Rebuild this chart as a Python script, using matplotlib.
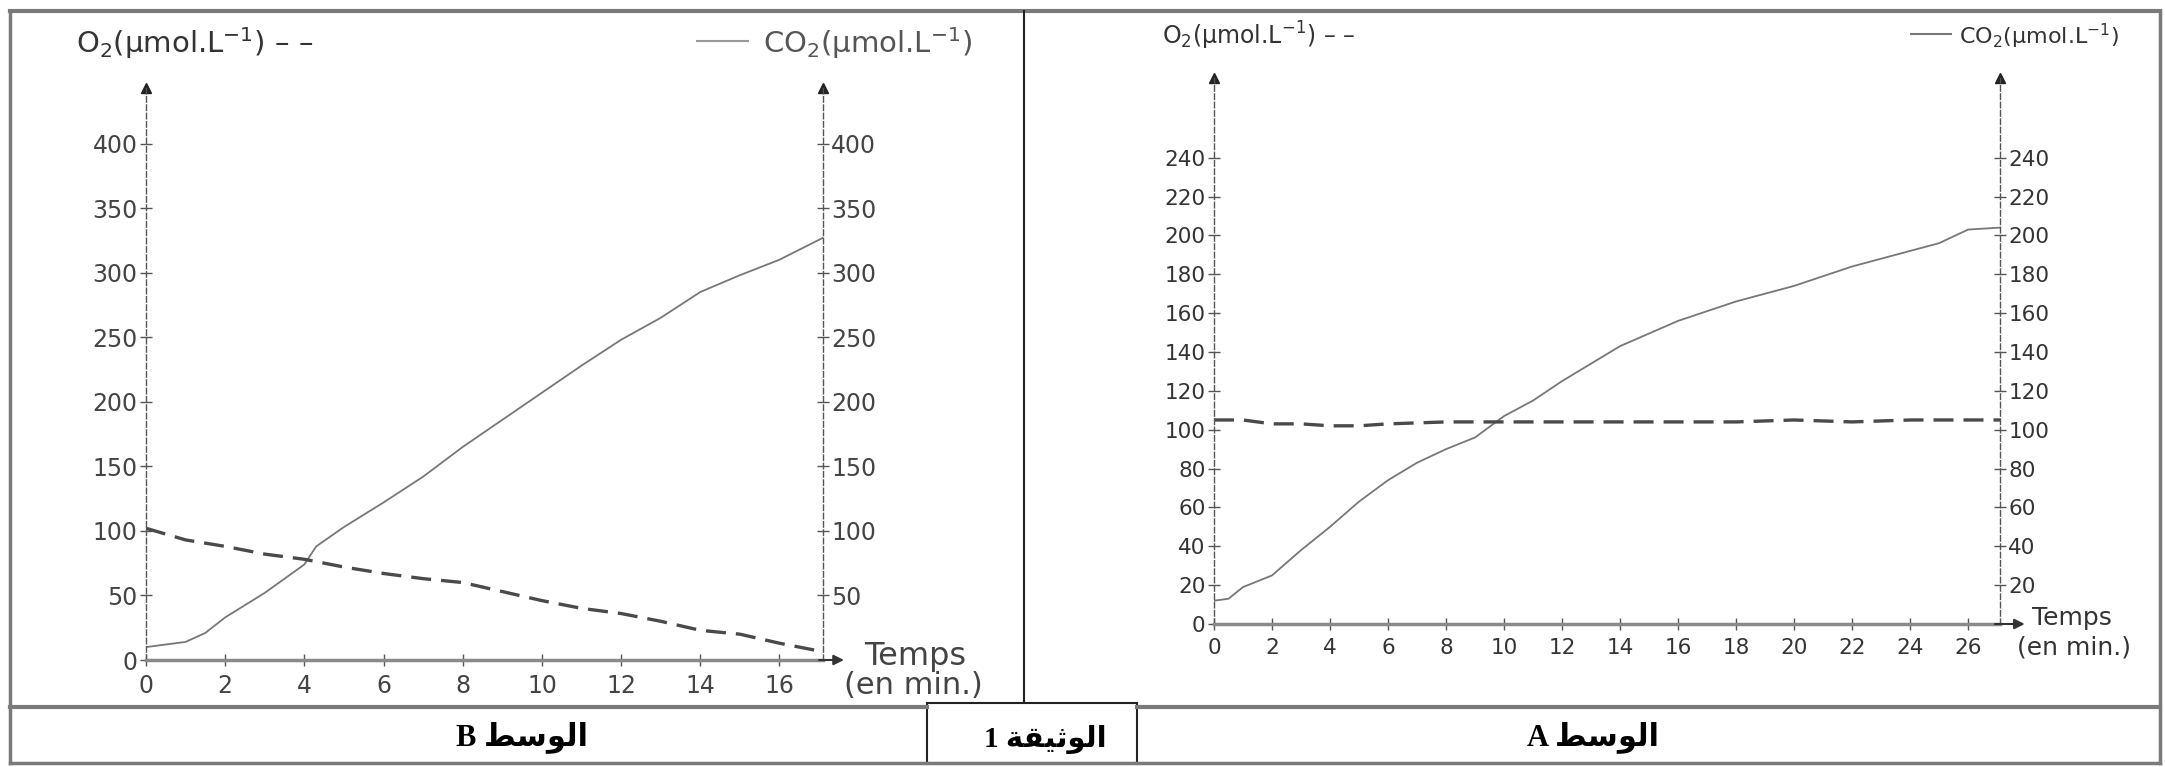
import matplotlib
matplotlib.use('Agg')
import matplotlib.pyplot as plt
from matplotlib.lines import Line2D
from matplotlib.patches import Rectangle

W, H = 2165, 767

# Milieu B (O2 en baisse, CO2 en hausse)
t_co2_b = [0, 1, 1.5, 2, 3, 4, 4.3, 5, 6, 7, 8, 9, 10, 11, 12, 13, 14, 15, 16, 17.1]
co2_b = [10, 14, 21, 33, 52, 74, 88, 103, 122, 142, 165, 186, 207, 228, 248, 265, 285, 298, 310, 327]
t_o2_b = [0, 1, 2, 3, 4, 5, 6, 7, 8, 9, 10, 11, 12, 13, 14, 15, 16, 17]
o2_b = [102, 93, 88, 82, 78, 72, 67, 63, 60, 53, 46, 40, 36, 30, 23, 20, 13, 7]

# Milieu A (O2 stable, CO2 en hausse)
t_co2_a = [0, 0.5, 1, 2, 3, 4, 5, 6, 7, 8, 9, 10, 11, 12, 14, 16, 18, 20, 22, 24, 25, 26, 27.1]
co2_a = [12, 13, 19, 25, 38, 50, 63, 74, 83, 90, 96, 107, 115, 125, 143, 156, 166, 174, 184, 192, 196, 203, 204]
t_o2_a = [0, 1, 2, 3, 4, 5, 6, 8, 10, 12, 14, 16, 18, 20, 22, 24, 26, 27.1]
o2_a = [105, 105, 103, 103, 102, 102, 103, 104, 104, 104, 104, 104, 104, 105, 104, 105, 105, 105]

ticks_x_b = list(range(0, 17, 2))
ticks_y_b = list(range(0, 401, 50))
ticks_x_a = list(range(0, 27, 2))
ticks_y_a = list(range(0, 241, 20))

o2_label = r'O$_2$(µmol.L$^{-1}$) – –'
co2_label = r'CO$_2$(µmol.L$^{-1}$)'
# texte arabe en formes de présentation, ordre visuel
label_b = 'B ' + '\ufec2\ufeb3\ufeee\ufedf\ufe8d'
label_a = 'A ' + '\ufec2\ufeb3\ufeee\ufedf\ufe8d'
label_doc = '1 ' + '\ufe94\ufed8\ufef4\ufe9b\ufeee\ufedf\ufe8d'


def fx(x):
    return x / W


def fy(y):
    return 1 - y / H


def make_axes(fig, x0, x1, y0, y1, xmax, ymax, xticks, yticks, yticks_r, tcolor, lsize):
    """Axes avec deux axes verticaux en pointillés et flèches"""
    ax = fig.add_axes([fx(x0), fy(y1), fx(x1) - fx(x0), fy(y0) - fy(y1)])
    ax.set_xlim(0, xmax)
    ax.set_ylim(0, ymax)
    ax.patch.set_alpha(0)
    ax.spines['top'].set_visible(False)
    for side in ('left', 'right'):
        ax.spines[side].set_linestyle((0, (4, 2)))
        ax.spines[side].set_color('#555555')
        ax.spines[side].set_linewidth(1)
    ax.spines['bottom'].set_color('#8a8a8a')
    ax.spines['bottom'].set_linewidth(2.5)
    ax.set_xticks(xticks)
    ax.set_yticks(yticks)
    ax.tick_params(direction='inout', length=8, width=1, color='#555555',
                   labelsize=lsize, labelcolor=tcolor)
    ax.tick_params(axis='y', pad=2)
    ax.tick_params(axis='x', pad=6)
    sec = ax.secondary_yaxis('right')
    sec.set_yticks(yticks_r)
    sec.spines['right'].set_visible(False)
    sec.tick_params(direction='inout', length=8, width=1, color='#555555',
                    labelsize=lsize, labelcolor=tcolor, pad=2)
    # flèches
    ax.plot([0, 1], [1, 1], '^', color='#222222', ms=7, transform=ax.transAxes, clip_on=False)
    ax.annotate('', xy=(1.035, 0), xycoords='axes fraction', xytext=(0.99, 0),
                arrowprops=dict(arrowstyle='-|>', color='#333333', lw=1.5, mutation_scale=15))
    return ax


def draw_frame(fig):
    """Cadre du document"""
    gray = '#7a7a7a'
    segs = [
        ((10, 2160), (11, 11), gray, 3),
        ((10, 10), (11, 763), gray, 2.5),
        ((2160, 2160), (11, 763), gray, 2.5),
        ((10, 2160), (763, 763), gray, 2.5),
        ((10, 927), (707, 707), gray, 3),
        ((1137, 2160), (707, 707), gray, 3),
        ((1024, 1024), (11, 703), '#222222', 1.5),
    ]
    for xs, ys, c, lw in segs:
        fig.add_artist(Line2D([fx(xs[0]), fx(xs[1])], [fy(ys[0]), fy(ys[1])], color=c, lw=lw))
    fig.add_artist(Rectangle((fx(927), fy(763)), fx(1137) - fx(927), fy(703) - fy(763),
                             fill=False, edgecolor='#222222', lw=1.5))


def main():
    fig = plt.figure(figsize=(W / 100, H / 100), dpi=100)
    fig.patch.set_facecolor('white')
    draw_frame(fig)

    # Graphique B
    ax_b = make_axes(fig, 146, 823, 88, 660, 17.1, 443, ticks_x_b, ticks_y_b,
                     ticks_y_b[1:], '#444444', 17)
    ax_b.plot(t_co2_b, co2_b, '-', color='#777777', lw=1.3)
    ax_b.plot(t_o2_b, o2_b, color='#4a4a4a', lw=2.4, dashes=(6, 3))

    fig.text(fx(76), fy(43), o2_label, fontsize=21, color='#333333', va='center')
    fig.add_artist(Line2D([fx(697), fx(748)], [fy(41), fy(41)], color='#999999', lw=1.5))
    fig.text(fx(763), fy(43), co2_label, fontsize=21, color='#555555', va='center')
    fig.text(fx(864), fy(657), 'Temps', fontsize=23, color='#444444', va='center')
    fig.text(fx(844), fy(686), '(en min.)', fontsize=22, color='#444444', va='center')

    # Graphique A
    ax_a = make_axes(fig, 1214, 2000, 78, 624, 27.1, 281, ticks_x_a, ticks_y_a,
                     ticks_y_a[1:], '#333333', 15.5)
    ax_a.plot(t_co2_a, co2_a, '-', color='#777777', lw=1.3)
    ax_a.plot(t_o2_a, o2_a, color='#4a4a4a', lw=2.4, dashes=(6, 3))

    fig.text(fx(1162), fy(36), o2_label, fontsize=17, color='#333333', va='center')
    fig.add_artist(Line2D([fx(1911), fx(1951)], [fy(34), fy(34)], color='#777777', lw=1.5))
    fig.text(fx(1959), fy(36), co2_label, fontsize=16, color='#333333', va='center')
    fig.text(fx(2032), fy(618), 'Temps', fontsize=18, color='#333333', va='center')
    fig.text(fx(2017), fy(648), '(en min.)', fontsize=18, color='#333333', va='center')

    # Légendes en bas
    fam = ['Liberation Serif', 'DejaVu Sans']
    fig.text(fx(522), fy(737), label_b, fontsize=22, fontweight='bold', family=fam,
             ha='center', va='center')
    fig.text(fx(1593), fy(737), label_a, fontsize=22, fontweight='bold', family=fam,
             ha='center', va='center')
    fig.text(fx(1045), fy(740), label_doc, fontsize=21, fontweight='bold', family=fam,
             ha='center', va='center')

    fig.savefig('out.png', dpi=100)


if __name__ == "__main__":
    main()
